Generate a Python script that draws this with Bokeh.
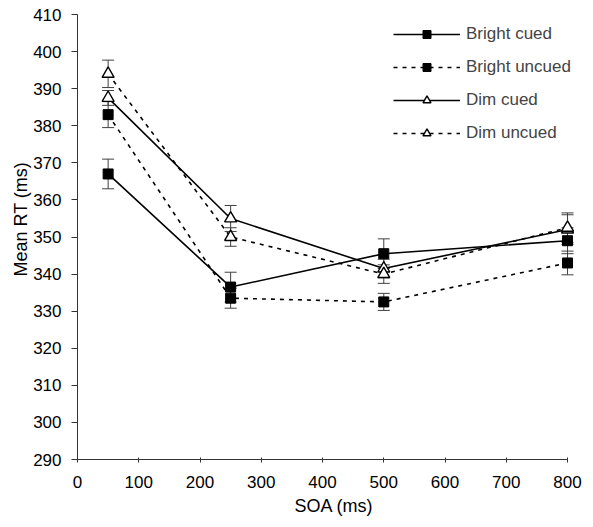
from bokeh.plotting import figure
from bokeh.models import ColumnDataSource, Whisker, TeeHead, Legend, LegendItem, Range1d, FixedTicker, Title
from bokeh.embed import file_html
from bokeh.resources import INLINE

soa = [50, 250, 500, 800]
bright_cued = [367, 336.5, 345.5, 349]
bright_cued_err = [4, 4, 4, 3.5]
bright_uncued = [383, 333.5, 332.5, 343]
bright_uncued_err = [3.5, 2.7, 2.3, 3.2]
dim_cued = [387.5, 355, 341.5, 352]
dim_cued_err = [2, 3.5, 2.5, 4]
dim_uncued = [394, 350, 340, 352.5]
dim_uncued_err = [3.7, 2.5, 2.5, 4]

x_ticks = [0, 100, 200, 300, 400, 500, 600, 700, 800]
y_ticks = [290, 300, 310, 320, 330, 340, 350, 360, 370, 380, 390, 400, 410]

FONT = "Liberation Sans"
AX = "#333333"

# frame extends past 800 so the legend text is not clipped; axis bounded to 0..800
p = figure(width=593, height=527, output_backend="svg", toolbar_location=None,
           x_range=Range1d(0, 837.5), y_range=Range1d(290, 410),
           min_border_left=77, min_border_right=3, min_border_top=14, min_border_bottom=68)
p.outline_line_color = None
p.xgrid.grid_line_color = None
p.ygrid.grid_line_color = None

for ax in (p.xaxis[0], p.yaxis[0]):
    ax.axis_line_color = AX
    ax.major_tick_line_color = AX
    ax.minor_tick_line_color = None
    ax.major_label_text_font = FONT
    ax.major_label_text_font_size = "17px"
    ax.major_label_text_color = "#000000"
    ax.axis_label_text_font = FONT
    ax.axis_label_text_font_size = "18px"
    ax.axis_label_text_font_style = "normal"
    ax.axis_label_text_color = "#000000"

p.xaxis.bounds = (0, 800)
p.xaxis.ticker = FixedTicker(ticks=x_ticks)
p.yaxis.ticker = FixedTicker(ticks=y_ticks)
p.xaxis.axis_label = "SOA (ms)"
p.xaxis.major_tick_out = 3
p.xaxis.major_tick_in = 2
p.yaxis.major_tick_out = 6
p.yaxis.major_tick_in = 0
p.xaxis.major_label_standoff = 13
p.yaxis.major_label_standoff = 10
p.xaxis.axis_label_standoff = 5

ytitle = Title(text="Mean RT (ms)", align="left", offset=183,
               text_font=FONT, text_font_size="18px", text_font_style="normal",
               text_color="#000000", standoff=0)
p.add_layout(ytitle, "left")

series = [
    ("Bright cued", bright_cued, bright_cued_err, "solid", "square"),
    ("Bright uncued", bright_uncued, bright_uncued_err, "4 5", "square"),
    ("Dim cued", dim_cued, dim_cued_err, "solid", "triangle"),
    ("Dim uncued", dim_uncued, dim_uncued_err, "4 5", "triangle"),
]

items = []
for name, vals, errs, dash, marker in series:
    src = ColumnDataSource(dict(x=soa, y=vals,
                                lo=[v - e for v, e in zip(vals, errs)],
                                hi=[v + e for v, e in zip(vals, errs)]))
    w = Whisker(source=src, base="x", lower="lo", upper="hi",
                line_color="#404040", line_width=1,
                upper_head=TeeHead(size=12, line_color="#404040", line_width=1),
                lower_head=TeeHead(size=12, line_color="#404040", line_width=1))
    p.add_layout(w)
    ln = p.line("x", "y", source=src, line_color="black", line_width=1.6, line_dash=dash)
    if marker == "square":
        sc = p.scatter("x", "y", source=src, marker="square", size=10,
                       fill_color="black", line_color="black")
    else:
        sc = p.scatter("x", "y", source=src, marker="triangle", size=12,
                       fill_color="white", line_color="black", line_width=1.4)
    items.append(LegendItem(label=name, renderers=[ln, sc]))

legend = Legend(items=items, location=(316, 316), padding=0, margin=0,
                glyph_width=67, glyph_height=20, spacing=13, label_standoff=6,
                label_height=20,
                label_text_font=FONT, label_text_font_size="17px",
                background_fill_alpha=0, border_line_color=None)
p.add_layout(legend)

open("out.html", "w").write(file_html(p, INLINE))
